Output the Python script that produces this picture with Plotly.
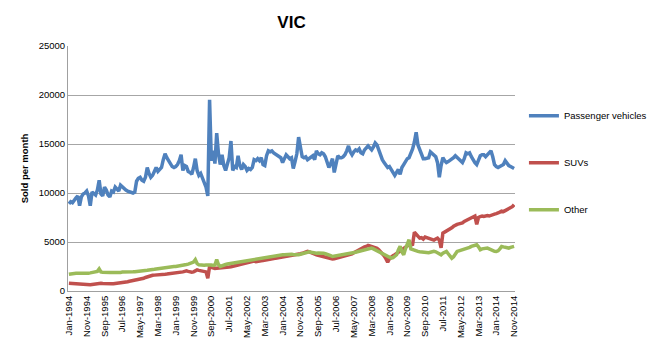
import plotly.graph_objects as go

month_names = ["Jan", "Feb", "Mar", "Apr", "May", "Jun", "Jul", "Aug", "Sep", "Oct", "Nov", "Dec"]
months = [f"{month_names[i % 12]}-{1994 + i // 12}" for i in range(251)]  # Jan-1994 .. Nov-2014

passenger = [
    8900, 9100, 9000, 9300, 9500, 9700, 8700, 9600, 9900, 10000, 10200, 9700,
    8700, 10100, 10000, 9800, 10300, 11300, 9900, 9700, 10600, 10300, 9800, 9600,
    10200, 10100, 10600, 10400, 10200, 10800, 10600, 10400, 10300, 10200, 10100, 10000,
    10000, 10100, 11200, 11500, 11600, 11300, 11200, 11600, 12600, 12000, 11600, 11800,
    12300, 12600, 12200, 12400, 12600, 13400, 14000, 13600, 13200, 13000, 12700, 12600,
    12700, 12900, 13300, 13900, 12300, 12800, 12700, 12200, 12100, 11900, 12600, 13500,
    12300, 11800, 12000, 11600, 11000, 10600, 9700, 19500, 13300, 14300, 13000, 16100,
    14000, 12900, 13900, 12800, 12300, 12900, 13600, 15300, 12300, 12700, 12600, 13800,
    12800, 12400, 12900, 12700, 12300, 12500, 12400, 12600, 13400, 13300, 13500, 13300,
    13600, 12900, 12800, 13800, 14300, 14200, 14300, 14100, 14000, 13900, 13800, 13600,
    13100, 13500, 13900, 13700, 13500, 13600, 12500, 13200, 14000, 15700, 14400, 13700,
    13600, 13700, 13400, 13500, 13600, 13800, 13400, 14300, 14000, 13900, 14100, 14000,
    13700, 13200, 12600, 13000, 13500, 12100, 12900, 13800, 13600, 13600, 13700, 13900,
    14300, 14800, 14200, 13900, 14200, 14400, 14300, 14500, 14100, 14000, 14400, 14600,
    14800, 14600, 14400, 14700, 15100, 14900, 14400, 13700, 13400, 13100, 12900, 12600,
    12700, 12400, 12200, 11800, 12100, 12400, 11900, 12600, 12900, 13300, 13500, 13600,
    14000, 14500, 15200, 16200, 14900, 14400, 14000, 13500, 13500, 13600, 13600, 14200,
    14000, 13900, 13700, 13100, 11600, 12800, 13600, 13300, 13100, 13200, 13300, 13400,
    13600, 13800, 13600, 13400, 13200, 13100, 13500, 14100, 14000, 14100, 13700, 13300,
    13100, 12900, 13500, 13800, 13900, 13900, 13700, 13900, 14100, 14300, 13700, 12900,
    12700, 12600, 12700, 12800, 12900, 13300, 13000, 12800, 12700, 12600, 12500,
]

suvs = [
    800, 780, 760, 740, 720, 700, 690, 680, 660, 650, 640, 620,
    640, 660, 700, 720, 760, 790, 780, 760, 740, 730, 720, 720,
    730, 740, 760, 780, 790, 800, 820, 850, 900, 950, 1000, 1030,
    1050, 1080, 1120, 1150, 1200, 1250, 1300, 1380, 1450, 1540, 1580, 1600,
    1620, 1650, 1640, 1680, 1700, 1720, 1710, 1730, 1750, 1780, 1800, 1810,
    1800, 1820, 1850, 1900, 1950, 2000, 2050, 2000, 1950, 1920, 1950, 2050,
    2150, 2100, 2050, 2000, 1980, 1950, 1300, 2500, 2400, 2330, 2300, 2320,
    2330, 2320, 2350, 2380, 2400, 2420, 2450, 2480, 2500, 2550, 2600, 2650,
    2700, 2750, 2800, 2850, 2900, 2950, 3000, 3020, 3050, 3000, 3050, 3080,
    3080, 3100, 3120, 3150, 3180, 3200, 3250, 3300, 3350, 3380, 3400, 3420,
    3450, 3500, 3550, 3600, 3630, 3580, 3600, 3690, 3700, 3750, 3800, 3850,
    3900, 4000, 4050, 4000, 3900, 3850, 3800, 3700, 3650, 3600, 3550, 3520,
    3500, 3450, 3400, 3350, 3280, 3300, 3350, 3400, 3420, 3450, 3500, 3550,
    3600, 3650, 3700, 3800, 3900, 4000, 4100, 4300, 4400, 4450, 4500, 4550,
    4650, 4600, 4550, 4500, 4400, 4350, 4200, 4000, 3850, 3600, 3300, 2950,
    3300, 3500, 3600, 3700, 3800, 3950, 4050, 4200, 4350, 4500, 4650, 4720,
    4700, 4750, 6000, 5800, 5500, 5400, 5450, 5300, 5500, 5450, 5350, 5300,
    5250, 5200, 5300, 5400, 5200, 4400, 5900, 6000, 6200, 6300, 6400, 6450,
    6600, 6750, 6800, 6850, 6900, 6950, 7100, 7200, 7350, 7450, 7500, 7600,
    7650, 6800, 7500, 7600, 7650, 7600, 7650, 7700, 7650, 7750, 7800, 7850,
    7900, 7950, 8050, 8150, 8100, 8200, 8300, 8300, 8400, 8600, 8800,
]

other = [
    1700, 1750, 1780, 1800, 1820, 1800, 1790, 1810, 1850, 1830, 1800, 1820,
    1850, 1870, 1900, 1950, 2000, 2250, 1950, 1900, 1880, 1870, 1880, 1880,
    1900, 1890, 1900, 1920, 1910, 1900, 1930, 1920, 1940, 1950, 1940, 1960,
    1960, 1970, 1980, 1990, 2000, 2050, 2080, 2100, 2120, 2150, 2150, 2200,
    2220, 2250, 2280, 2300, 2350, 2390, 2400, 2420, 2450, 2480, 2500, 2500,
    2500, 2520, 2550, 2580, 2600, 2650, 2700, 2740, 2780, 2850, 2950, 3200,
    2800, 2670, 2650, 2600, 2620, 2650, 2670, 2700, 2650, 2600, 2650, 3200,
    2700, 2500, 2600, 2650, 2700, 2750, 2780, 2840, 2850, 2900, 2950, 3000,
    3020, 3050, 3080, 3100, 3150, 3180, 3200, 3250, 3280, 3300, 3330, 3350,
    3380, 3400, 3420, 3450, 3500, 3520, 3550, 3580, 3600, 3620, 3650, 3680,
    3700, 3690, 3720, 3750, 3760, 3740, 3720, 3700, 3720, 3690, 3750, 3800,
    3900, 3950, 4040, 4000, 3950, 3900, 3860, 3850, 3880, 3900, 3870, 3860,
    3800, 3700, 3650, 3600, 3520, 3550, 3580, 3600, 3620, 3650, 3690, 3700,
    3720, 3750, 3800, 3860, 3900, 3950, 4000, 4050, 4100, 4150, 4210, 4250,
    4300, 4350, 4380, 4300, 4200, 4100, 4040, 3950, 3850, 3750, 3690, 3600,
    3500, 3350, 3400, 3500, 3700, 4200, 4550, 4000, 3700, 4300, 4800, 5230,
    4300, 4210, 4150, 4100, 4040, 4000, 3980, 3950, 3900, 3860, 3900, 3950,
    4000, 4040, 4000, 3900, 3800, 3690, 3850, 4000, 4040, 3800, 3500, 3350,
    3500, 3800, 4040, 4100, 4150, 4200, 4300, 4380, 4400, 4450, 4550, 4600,
    4650, 4720, 4500, 4210, 4300, 4350, 4400, 4380, 4300, 4200, 4100, 4050,
    4040, 4100, 4300, 4550, 4500, 4450, 4400, 4380, 4450, 4500, 4550,
]

tick_labels = months[::10]
y_ticks = [0, 5000, 10000, 15000, 20000, 25000]

series = [
    ("Passenger vehicles", passenger, "#4F81BD"),
    ("SUVs", suvs, "#C0504D"),
    ("Other", other, "#9BBB59"),
]

fig = go.Figure()
for i, (name, vals, col) in enumerate(series):
    fig.add_trace(go.Scatter(
        x=list(range(len(months))), y=vals, mode="lines", name=name,
        line=dict(color=col, width=3.5), legendgroup=f"g{i}",
        customdata=months, hovertemplate="%{customdata}: %{y}<extra></extra>",
    ))

font_family = "Liberation Sans, Arial, sans-serif"
fig.update_layout(
    width=660, height=351,
    margin=dict(l=68, r=145, t=46, b=60, autoexpand=False),
    paper_bgcolor="white", plot_bgcolor="white",
    font=dict(family=font_family, size=10, color="#000000"),
    title=dict(text="<b>VIC</b>", x=291.5 / 660, xanchor="center",
               y=1 - 22 / 351, yanchor="middle", font=dict(size=17, family=font_family)),
    showlegend=True,
    legend=dict(x=1.02, xanchor="left", y=0.775, yanchor="top",
                font=dict(size=9.5), tracegroupgap=28, itemwidth=30,
                bgcolor="rgba(0,0,0,0)"),
    xaxis=dict(
        range=[-0.5, len(months) - 0.5],
        tickmode="array", tickvals=list(range(0, len(months), 10)), ticktext=tick_labels,
        tickangle=-90, tickfont=dict(size=9.5), showgrid=False,
        showline=True, linecolor="#a0a0a0", linewidth=1, ticks="", automargin=False,
        zeroline=False,
    ),
    yaxis=dict(
        range=[0, 25000], tickmode="array", tickvals=y_ticks,
        ticktext=[str(v) for v in y_ticks], tickfont=dict(size=9.5),
        showgrid=True, gridcolor="#a6a6a6", gridwidth=1,
        showline=True, linecolor="#a0a0a0", linewidth=1, ticks="", automargin=False,
        zeroline=False,
        title=dict(text="<b>Sold per month</b>", font=dict(size=9.5), standoff=8),
    ),
)

fig.write_html("out.html")
